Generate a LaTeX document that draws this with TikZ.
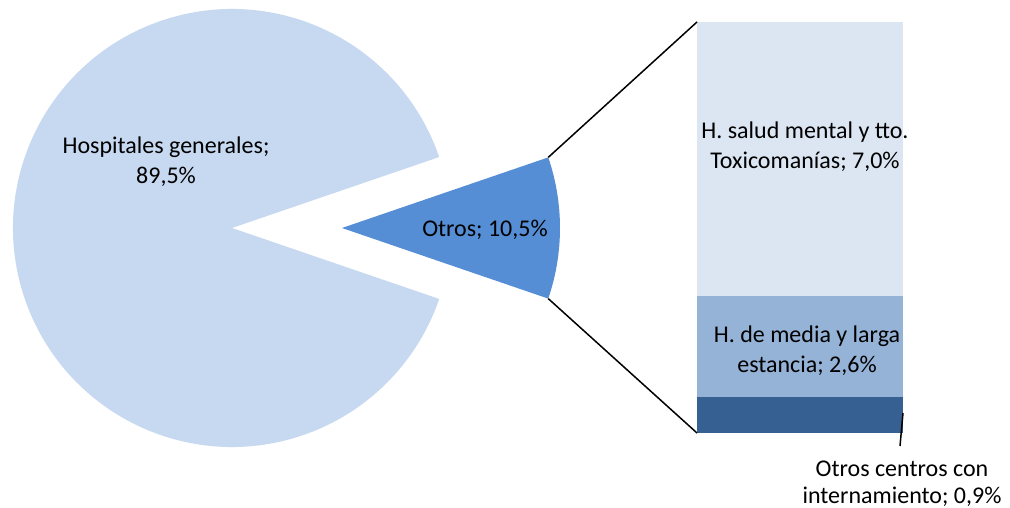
\documentclass[tikz,border=0pt]{standalone}
\usepackage{fontspec}
\setmainfont{Carlito}
\definecolor{piebig}{HTML}{C6D9F1}
\definecolor{pieslice}{HTML}{558ED5}
\definecolor{bartop}{HTML}{DCE6F2}
\definecolor{barmid}{HTML}{95B3D7}
\definecolor{barbot}{HTML}{366092}
\begin{document}
\begin{tikzpicture}[x=1pt,y=1pt,
  lbl/.style={align=center,inner sep=0pt,text=black,font=\fontsize{24}{30}\selectfont},
  conn/.style={draw=black,line width=1.5pt}]
\useasboundingbox (0,0) rectangle (1010,508);
% big pie
\fill[piebig] (232,280) -- ++(18.9:219) arc[start angle=18.9,end angle=341.1,radius=219] -- cycle;
% small slice
\coordinate (sa) at (342,280);
\fill[pieslice] (sa) -- ++(-18.9:218) coordinate (slo) arc[start angle=-18.9,end angle=18.9,radius=218] coordinate (shi) -- cycle;
% bar
\fill[barbot] (697,75) rectangle (903,110.5);
\fill[barmid] (697,110.5) rectangle (903,212);
\fill[bartop] (697,212) rectangle (903,486);
\coordinate (btl) at (697,486);
\coordinate (bbl) at (697,75);
% connectors
\draw[conn] (shi) -- (btl);
\draw[conn] (slo) -- (bbl);
\coordinate (ldA) at (903,95);
\coordinate (ldB) at (900,62);
\draw[conn] (ldA) -- (ldB);
% labels
\node[lbl] (hg) at (166,346.5) {Hospitales generales;\\89,5\%};
\node[lbl,anchor=base] (ot) at (485,271) {Otros; 10,5\%};
\node[lbl] (hs) at (805,361.5) {H. salud mental y tto.\\Toxicoman\'ias; 7,0\%};
\node[lbl] (hm) at (807,157.5) {H. de media y larga\\estancia; 2,6\%};
\node[lbl,font=\fontsize{24}{27}\selectfont] (oc) at (902,24) {Otros centros con\\internamiento; 0,9\%};
\end{tikzpicture}
\end{document}
